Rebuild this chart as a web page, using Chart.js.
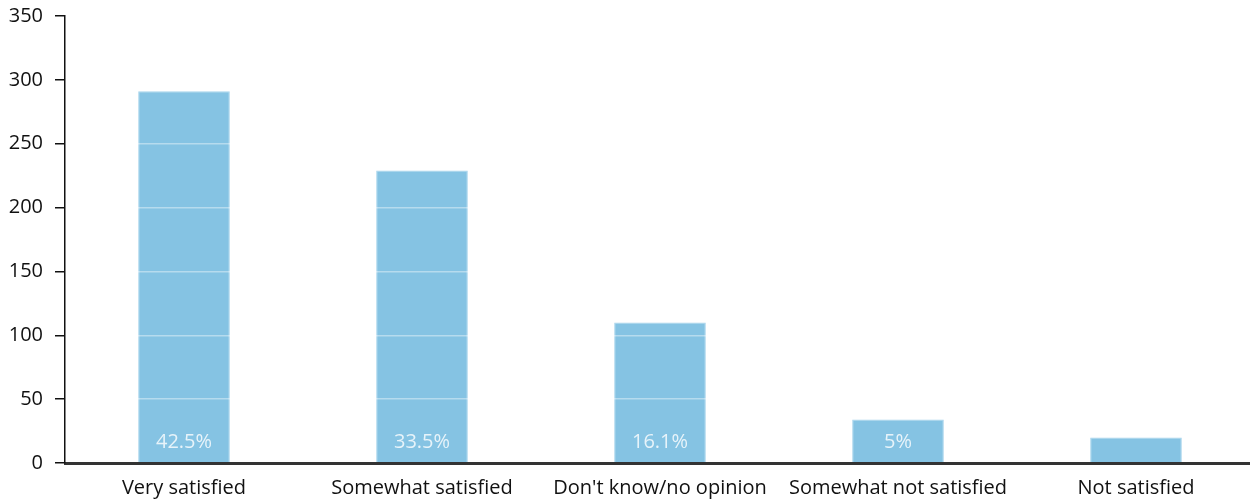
<!DOCTYPE html>
<html>
<head>
<meta charset="utf-8">
<script src="https://cdn.jsdelivr.net/npm/chart.js@4"></script>
<style>
  html, body { margin: 0; padding: 0; background: #fff; }
  #clip { width: 1250px; height: 504px; overflow: hidden; }
  #wrap { width: 1255px; height: 504px; }
</style>
</head>
<body>
<div id="clip"><div id="wrap"><canvas id="satisfactionChart"></canvas></div></div>
<script>
// Satisfaction survey
const categories = ['Very satisfied', 'Somewhat satisfied', "Don't know/no opinion", 'Somewhat not satisfied', 'Not satisfied'];
const counts = [291, 229, 110, 34, 20];
const shareLabels = ['42.5%', '33.5%', '16.1%', '5%', ''];
const yTicks = [0, 50, 100, 150, 200, 250, 300, 350];

Chart.defaults.font.family = '"Open Sans", "Noto Sans", sans-serif';
Chart.defaults.font.size = 20;
Chart.defaults.color = '#111';

// percentage text inside each bar, near the base
const shareLabelPlugin = {
    id: 'shareLabels',
    afterDatasetsDraw(chart) {
        const ctx = chart.ctx;
        const meta = chart.getDatasetMeta(0);
        ctx.save();
        ctx.font = '20px "Open Sans", sans-serif';
        ctx.fillStyle = 'rgba(255,255,255,0.8)';
        ctx.textAlign = 'center';
        ctx.textBaseline = 'middle';
        meta.data.forEach((bar, i) => {
            if (!shareLabels[i]) return;
            ctx.fillText(shareLabels[i], bar.x, bar.base - 20);
        });
        ctx.restore();
    }
};

const satisfactionChart = new Chart(document.getElementById('satisfactionChart'), {
    type: 'bar',
    data: {
        labels: categories,
        datasets: [{
            label: 'Responses',
            data: counts,
            backgroundColor: '#85c3e3',
            borderColor: '#a6d4ec',
            borderWidth: { top: 1, left: 1, right: 1, bottom: 0 },
            borderSkipped: 'bottom',
            barPercentage: 0.385,
            categoryPercentage: 1
        }]
    },
    options: {
        responsive: true,
        maintainAspectRatio: false,
        animation: false,
        layout: { padding: { left: 9, top: 0, right: 0, bottom: 0 } },
        plugins: {
            legend: { display: false },
            tooltip: { enabled: false }
        },
        scales: {
            x: {
                afterFit(axis) {
                    axis.height = 41;
                    axis.paddingLeft = 0;
                    axis.paddingRight = 0;
                },
                grid: { display: false, drawTicks: false },
                border: { display: true, color: '#333', width: 3, z: 2 },
                ticks: { padding: 13, color: '#111', maxRotation: 0 }
            },
            y: {
                min: 0,
                max: 350,
                afterBuildTicks(axis) {
                    axis.ticks = yTicks.map(v => ({ value: v }));
                },
                afterFit(axis) {
                    axis.width = 56;
                    axis.paddingTop = 16;
                    axis.paddingBottom = 0;
                },
                grid: {
                    z: 1,
                    color: 'rgba(255,255,255,0.4)',
                    lineWidth: 1.5,
                    tickColor: '#111',
                    tickLength: 10,
                    drawOnChartArea: true
                },
                border: { display: true, color: '#111', width: 1.5, z: 2 },
                ticks: { padding: 12, color: '#111' }
            }
        }
    },
    plugins: [shareLabelPlugin]
});
</script>
</body>
</html>
